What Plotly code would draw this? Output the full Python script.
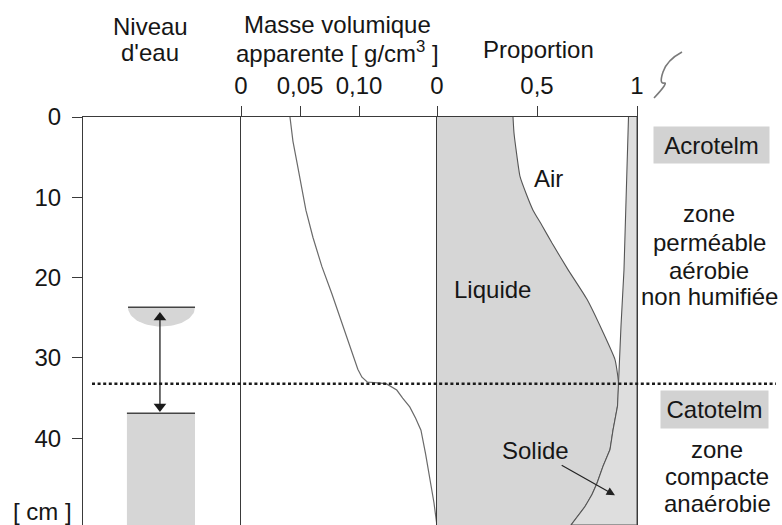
import numpy as np
import plotly.graph_objects as go

# ---------------- data ----------------
depth_ticks = [0, 10, 20, 30, 40]
depth_max = 50.8

# Masse volumique apparente [g/cm3] vs depth [cm]
dens_depth = [0, 3, 5.7, 8.5, 11.6, 15, 18.6, 22, 25.5, 29, 31.4, 32.4, 33.0, 33.2,
              34.0, 35.0, 36.1, 37.5, 39.0, 42, 45, 48, 50.8]
dens_value = [0.0415, 0.044, 0.0475, 0.051, 0.055, 0.061, 0.0685, 0.077, 0.085, 0.093,
              0.099, 0.1025, 0.107, 0.123, 0.132, 0.137, 0.143, 0.148, 0.1525, 0.1565,
              0.160, 0.1635, 0.166]
dens_ticks = [0, 0.05, 0.10]
dens_ticktext = ["0", "0,05", "0,10"]

# Proportions: liquid (from 0) and solid (from 1)
liq_depth = [0, 2, 4, 7.4, 9.5, 11.6, 13.5, 15.7, 19, 22.7, 26.8, 30.2, 32, 33.2]
liq_value = [0.38, 0.385, 0.395, 0.415, 0.445, 0.48, 0.525, 0.575, 0.655, 0.75,
             0.83, 0.89, 0.9025, 0.9075]
sol_depth = [0, 10, 19, 26, 33.2, 36, 39, 41.4, 43.5, 45.6, 47, 48.5, 50.8]
sol_value = [0.0425, 0.0525, 0.065, 0.08, 0.0925, 0.0975, 0.12, 0.135, 0.17, 0.2,
             0.225, 0.26, 0.33]
prop_ticks = [0, 0.5, 1]
prop_ticktext = ["0", "0,5", "1"]

# water table
water_high = 23.7
water_low = 36.9
boundary_depth = 33.2

# ---------------- styling ----------------
W, H = 782, 525
L, T = 83, 117
PW, PH = W - L, H - T
FONT = "Liberation Sans, Arial, sans-serif"
FS = 24
TXT = "#161616"
LINE = "#3a3a3a"
GREY = "#d6d6d6"
GREY2 = "#dedede"


def px_x(px):
    return (px - L) / PW


def px_y(py):
    return (H - py) / PH


d1, d2, d3 = px_x(241), px_x(437), px_x(637)

fig = go.Figure()

# liquid area (below water table air = 0 -> liquid = 1 - solid)
liq_full_depth = list(liq_depth) + [d for d in sol_depth if d > boundary_depth]
liq_full_value = list(liq_value) + [1 - s for d, s in zip(sol_depth, sol_value) if d > boundary_depth]
fig.add_trace(go.Scatter(x=liq_full_value, y=liq_full_depth, xaxis="x3", yaxis="y3",
                         mode="lines", fill="tozerox", fillcolor=GREY,
                         line=dict(color="#555555", width=1.1, shape="spline", smoothing=0.5),
                         hoverinfo="skip"))
# solid area
sx = [1 - s for s in sol_value] + [1, 1]
sy = list(sol_depth) + [sol_depth[-1], sol_depth[0]]
fig.add_trace(go.Scatter(x=sx, y=sy, xaxis="x3", yaxis="y3", mode="lines",
                         fill="toself", fillcolor=GREY2,
                         line=dict(color="#555555", width=1.1), hoverinfo="skip"))

# density curve
fig.add_trace(go.Scatter(x=dens_value, y=dens_depth, xaxis="x2", yaxis="y2",
                         mode="lines", line=dict(color="#6a6a6a", width=1.2),
                         hoverinfo="skip"))

# water level symbol (bowl)
cx, rx, hb = 0.497, 0.212, 2.4
t = np.linspace(0, np.pi, 40)
fig.add_trace(go.Scatter(x=cx + rx * np.cos(t), y=water_high + hb * np.sin(t),
                         xaxis="x", yaxis="y", mode="lines", fill="toself",
                         fillcolor=GREY, line=dict(width=0), hoverinfo="skip"))

# water-level fluctuation double arrow
ax_x = 0.487
fig.add_trace(go.Scatter(x=[ax_x, ax_x], y=[water_high + 1.1, water_low - 0.95],
                         xaxis="x", yaxis="y", mode="lines",
                         line=dict(color="#222", width=1.3), hoverinfo="skip"))
fig.add_trace(go.Scatter(x=[ax_x, ax_x], y=[water_high + 1.25, water_low - 0.85],
                         xaxis="x", yaxis="y", mode="markers",
                         marker=dict(symbol=["triangle-up", "triangle-down"], size=11,
                                     color="#1a1a1a", line=dict(width=0)),
                         hoverinfo="skip"))

shapes = []
# saturated column
shapes.append(dict(type="rect", xref="x", yref="y", x0=0.278, x1=0.709,
                   y0=water_low, y1=depth_max, fillcolor=GREY, line=dict(width=0),
                   layer="below"))
shapes.append(dict(type="line", xref="x", yref="y", x0=0.278, x1=0.709,
                   y0=water_low, y1=water_low, line=dict(color="#444", width=1.5)))
shapes.append(dict(type="line", xref="x", yref="y", x0=0.285, x1=0.709,
                   y0=water_high, y1=water_high, line=dict(color="#444", width=1.5)))
# acrotelm / catotelm boundary
shapes.append(dict(type="line", xref="paper", yref="y", x0=px_x(92), x1=px_x(776),
                   y0=boundary_depth, y1=boundary_depth,
                   line=dict(color="#1a1a1a", width=2.5, dash="3px,2.6px")))
# hand-drawn cut mark
pts = [(682, 52), (667, 60), (663, 72), (664, 83), (660, 93), (654, 98)]
p = [(px_x(a), px_y(b)) for a, b in pts]
path = "M{},{} Q{},{} {},{} T{},{} T{},{}".format(
    p[0][0], p[0][1], p[1][0], p[1][1], p[2][0], p[2][1], p[3][0], p[3][1], p[5][0], p[5][1])
shapes.append(dict(type="path", xref="paper", yref="paper", path=path,
                   line=dict(color="#7a7a7a", width=1.6)))

ann = []


def txt(s, xpx, ypx, size=FS, **kw):
    d = dict(text=s, x=px_x(xpx), y=px_y(ypx), xref="paper", yref="paper",
             showarrow=False, xanchor="center", yanchor="middle",
             font=dict(family=FONT, size=size, color=TXT))
    d.update(kw)
    ann.append(d)


txt("Niveau", 150, 26.5)
txt("d'eau", 150, 53)
txt("Masse volumique", 337, 25)
txt("apparente [ g/cm<sup>3</sup> ]", 337, 52)
txt("Proportion", 538, 50)
txt("[ cm ]", 42, 511)

# right labels
txt("Acrotelm", 711.5, 145, bgcolor="#d2d2d2", width=107, height=28, borderpad=4)
for s, yy in [("zone", 213), ("perméable", 242), ("aérobie", 270), ("non humifiée", 296)]:
    txt(s, 709, yy)
txt("Catotelm", 714.5, 409, bgcolor="#d2d2d2", width=99, height=29, borderpad=4)
for s, yy in [("zone", 449), ("compacte", 476), ("anaérobie", 503)]:
    txt(s, 717, yy)

# phase labels
ann.append(dict(text="Air", x=0.555, y=7.7, xref="x3", yref="y3", showarrow=False,
                font=dict(family=FONT, size=FS, color=TXT)))
ann.append(dict(text="Liquide", x=0.275, y=21.5, xref="x3", yref="y3", showarrow=False,
                font=dict(family=FONT, size=FS, color=TXT)))
ann.append(dict(text="Solide", x=0.89, y=47.1, ax=0.49, ay=41.5, xref="x3", yref="y3",
                axref="x3", ayref="y3", showarrow=True, arrowhead=2, arrowsize=1.4,
                arrowwidth=1.2, arrowcolor="#222", standoff=0,
                font=dict(family=FONT, size=FS, color=TXT)))

ax_common = dict(showgrid=False, zeroline=False, showline=True, linecolor=LINE,
                 linewidth=1, tickcolor=LINE, tickfont=dict(family=FONT, size=FS, color=TXT))

fig.update_layout(
    width=W, height=H, margin=dict(l=L, r=0, t=T, b=0, pad=0, autoexpand=False),
    paper_bgcolor="white", plot_bgcolor="white", showlegend=False,
    shapes=shapes, annotations=ann,
    xaxis=dict(domain=[0, d1], range=[0, 1], side="top", anchor="y", ticks="",
               showticklabels=False, **ax_common),
    xaxis2=dict(domain=[d1, d2], range=[0, 0.1661], side="top", anchor="y2",
                tickvals=dens_ticks, ticktext=dens_ticktext, ticks="outside",
                ticklen=10, ticklabelstandoff=2, **ax_common),
    xaxis3=dict(domain=[d2, d3], range=[0, 1], side="top", anchor="y3",
                tickvals=prop_ticks, ticktext=prop_ticktext, ticks="outside",
                ticklen=10, ticklabelstandoff=2, **ax_common),
    yaxis=dict(domain=[0, 1], range=[depth_max, 0], anchor="x", side="left",
               tickvals=depth_ticks, ticks="outside", ticklen=10,
               ticklabelstandoff=6, **ax_common),
    yaxis2=dict(matches="y", anchor="x2", ticks="", showticklabels=False, **ax_common),
    yaxis3=dict(matches="y", anchor="x3", ticks="", showticklabels=False, mirror=True,
                **ax_common),
)

fig.write_html(
    "out.html",
    config={"displayModeBar": False},
    post_script="document.body.style.margin='0px';document.body.style.padding='0px';"
                "document.body.style.overflow='hidden';",
)
